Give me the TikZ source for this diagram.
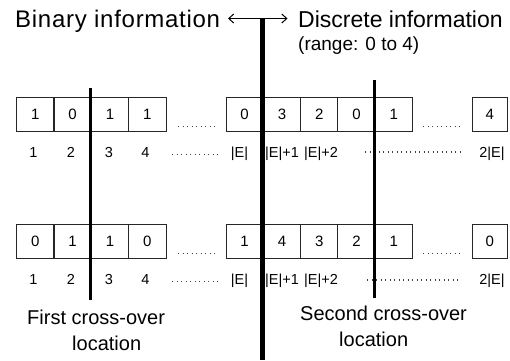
\documentclass[tikz,border=0pt]{standalone}
\usepackage{fontspec}
\setmainfont{Liberation Sans}
\usetikzlibrary{arrows.meta}
\begin{document}
\begin{tikzpicture}[x=1pt,y=-1pt,
  cell/.style={draw=black!85, line width=0.9pt, minimum width=37.3pt,
    minimum height=34pt, inner sep=0pt, font=\fontsize{15}{17}\selectfont},
  idx/.style={inner sep=0pt, anchor=base, font=\fontsize{14.5}{16}\selectfont},
  dotrow/.style={line width=1.1pt, black!75, dash pattern=on 1.1pt off 3.4pt},
  cross/.style={line width=3pt},
  mainbar/.style={line width=4.5pt},
  note/.style={inner sep=0pt, anchor=base west, font=\fontsize{20}{24}\selectfont},
  head/.style={inner sep=0pt, anchor=base west, font=\fontsize{23}{27}\selectfont}]

\useasboundingbox (0,0) rectangle (510,360);

% ---------- first chromosome ----------
\foreach \v [count=\i] in {1,0,1,1}
  \node[cell] (a\i) at ({16.5+37.4*(\i-0.5)},114) {\v};
\foreach \v [count=\i] in {0,3,2,0,1}
  \node[cell] (b\i) at ({226+37.3*(\i-0.5)},114) {\v};
\node[cell, minimum width=34.5pt] (bl) at (489.75,114) {4};

% ---------- second chromosome ----------
\foreach \v [count=\i] in {0,1,1,0}
  \node[cell] (c\i) at ({16.5+37.4*(\i-0.5)},241) {\v};
\foreach \v [count=\i] in {1,4,3,2,1}
  \node[cell] (d\i) at ({226+37.3*(\i-0.5)},241) {\v};
\node[cell, minimum width=34.5pt] (dl) at (489.75,241) {0};

% ---------- gene positions ----------
\foreach \t/\x [count=\i] in {1/33.5,2/71,3/109,4/145.5,{|E|}/239.5,{|E|+1}/282,{|E|+2}/321,{2|E|}/492} {
  \node[idx] (p\i) at (\x,157) {\t};
  \node[idx] (q\i) at (\x,284) {\t};
}

% ---------- elided parts ----------
\draw[dotrow] (178,126.5) -- (215,126.5);
\draw[dotrow] (423,126.5) -- (461,126.5);
\draw[dotrow] (172,154.5) -- (219,154.5);
\draw[dotrow] (365,152) -- (461,152);
\draw[dotrow] (178,253.5) -- (215,253.5);
\draw[dotrow] (423,253.5) -- (461,253.5);
\draw[dotrow] (172,281.5) -- (219,281.5);
\draw[dotrow] (367,280) -- (461,280);

% ---------- cross-over locations ----------
\coordinate (x1t) at (90.5,88);
\coordinate (x1b) at (90.5,300);
\coordinate (x2t) at (374.5,80);
\coordinate (x2b) at (374.5,298);
\draw[cross] (x1t) -- (x1b);
\draw[cross] (x2t) -- (x2b);

% ---------- binary / discrete divider ----------
\coordinate (arrL) at (228,18.5);
\coordinate (arrR) at (287.5,18.5);
\coordinate (stem) at (262.5,18.5);
\coordinate (foot) at (262.5,360);
\draw[line width=1pt, {Straight Barb[length=5pt,width=9pt]}-{Straight Barb[length=5pt,width=9pt]}] (arrL) -- (arrR);
\draw[mainbar] (stem) -- (foot);

% ---------- labels ----------
\node[head, font=\fontsize{24}{28}\selectfont\addfontfeature{LetterSpace=3}] (bin) at (15,27) {Binary information};
\node[head] (dis) at (298,27) {Discrete information};
\node[head, font=\fontsize{19}{23}\selectfont] (rng) at (298,50) {(range: 0 to 4)};

\node[note] (f1) at (27,324) {First cross-over};
\node[note] (f2) at (72,350) {location};
\node[note] (s1) at (300,320) {Second cross-over};
\node[note] (s2) at (339,346) {location};
\end{tikzpicture}
\end{document}
